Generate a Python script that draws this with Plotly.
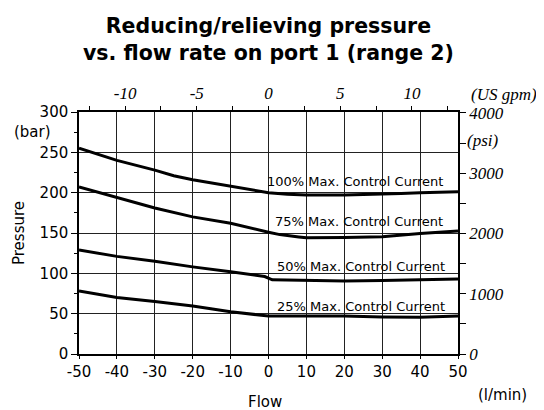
import plotly.graph_objects as go

# ---- data ----
flow_100 = [-50, -40, -30, -25, -20, -10, -3, 0, 5, 10, 20, 30, 35, 40, 50]
bar_100 = [255, 240, 228, 221, 216, 208, 203, 200, 198, 197, 197, 198, 199, 200, 201]

flow_75 = [-50, -40, -30, -20, -10, 0, 3, 8, 10, 20, 30, 40, 50]
bar_75 = [207, 194, 181, 170, 162, 151, 148, 145, 144, 144.5, 145.5, 149.5, 152.5]

flow_50 = [-50, -40, -30, -20, -10, -1, 1, 10, 20, 30, 40, 50]
bar_50 = [129, 121, 115, 108, 102, 96, 92, 91, 90.5, 91, 92, 93]

flow_25 = [-50, -40, -30, -20, -10, -2, 0, 10, 20, 30, 40, 50]
bar_25 = [78, 70, 65, 59.5, 52.5, 48, 47, 47, 47, 46, 45.5, 47]

curve_labels = ["100% Max. Control Current", "75% Max. Control Current",
                "50% Max. Control Current", "25% Max. Control Current"]
label_flow = [-1, 1.2, 1.6, 1.6]
label_bar = [214, 164, 109, 59.5]

x_ticks = [-50, -40, -30, -20, -10, 0, 10, 20, 30, 40, 50]
x_tick_text = ["-50", "-40", "-30", "-20", "-10", "0", "10", "20", "30", "40", "50"]
y_ticks = [0, 50, 100, 150, 200, 250, 300]
gpm_ticks = [-10, -5, 0, 5, 10]
gpm_tick_text = ["-10", "-5", "0", "5", "10"]
psi_ticks = [0, 1000, 2000, 3000, 4000]

LPM_PER_GPM = 3.785
PSI_TOP = 4015

title_text = "Reducing/relieving pressure<br>vs. flow rate on port 1 (range 2)"

# ---- figure ----
SANS = "DejaVu Sans"
SERIF = "Liberation Serif"
fig = go.Figure()
for fx, by in [(flow_100, bar_100), (flow_75, bar_75), (flow_50, bar_50), (flow_25, bar_25)]:
    fig.add_trace(go.Scatter(x=fx, y=by, mode="lines",
                             line=dict(color="black", width=3),
                             showlegend=False, hoverinfo="skip"))
# dummy trace to activate secondary axes
fig.add_trace(go.Scatter(x=[None], y=[None], xaxis="x2", yaxis="y2",
                         showlegend=False, hoverinfo="skip"))

for t, fx, by in zip(curve_labels, label_flow, label_bar):
    fig.add_annotation(x=fx, y=by, xref="x", yref="y", text=t, showarrow=False,
                       xanchor="left", yanchor="middle",
                       font=dict(family=SANS, size=13, color="black"))

# page body offset of the browser (default 8px margin)
OFF = 8
W, H = 544 - OFF, 410 - OFF
L, T = 79 - OFF, 112 - OFF
R = W - (458 - OFF)
B = H - (354 - OFF)
pw, ph = W - L - R, H - T - B


def px(xi):
    return (xi - OFF - L) / pw


def py(yi):
    return (H - B - (yi - OFF)) / ph


ann = [
    ("(bar)", 32, 132, SANS, 15, "normal", 0),
    ("Pressure", 19, 233, SANS, 15, "normal", -90),
    ("Flow", 265, 402, SANS, 15, "normal", 0),
    ("(l/min)", 502, 395, SANS, 15, "normal", 0),
    ("(US gpm)", 504, 94, SERIF, 17, "italic", 0),
    ("(psi)", 483, 140, SERIF, 17, "italic", 0),
]
for text, xi, yi, fam, sz, st, ang in ann:
    fig.add_annotation(x=px(xi), y=py(yi), xref="paper", yref="paper", text=text,
                       showarrow=False, xanchor="center", yanchor="middle",
                       textangle=ang,
                       font=dict(family=fam, size=sz, style=st, color="black"))

fig.add_annotation(x=px(268), y=py(39), xref="paper", yref="paper", text=title_text,
                   showarrow=False, xanchor="center", yanchor="middle",
                   font=dict(family=SANS, size=20.5, weight="bold", color="black"))

grid = "#222222"
fig.update_layout(
    width=W, height=H,
    margin=dict(l=L, r=R, t=T, b=B),
    paper_bgcolor="white", plot_bgcolor="white",
    xaxis=dict(range=[-50, 50], tickvals=x_ticks, ticktext=x_tick_text,
               showgrid=True, gridcolor=grid, gridwidth=1,
               showline=True, linecolor="black", linewidth=1.5, mirror=False,
               ticks="outside", ticklen=3, tickcolor="black",
               zeroline=False,
               tickfont=dict(family=SANS, size=15, color="black")),
    yaxis=dict(range=[0, 300], tickvals=y_ticks,
               showgrid=True, gridcolor=grid, gridwidth=1,
               showline=True, linecolor="black", linewidth=1.5, mirror=False,
               ticks="outside", ticklen=6, tickcolor="black",
               minor=dict(dtick=25, ticks="outside", ticklen=3, tickcolor="black", showgrid=False),
               zeroline=False,
               tickfont=dict(family=SANS, size=15, color="black")),
    xaxis2=dict(overlaying="x", side="top",
                range=[-50 / LPM_PER_GPM, 50 / LPM_PER_GPM],
                tickvals=gpm_ticks, ticktext=gpm_tick_text,
                showgrid=False, zeroline=False,
                showline=True, linecolor="black", linewidth=1.5,
                ticks="outside", ticklen=4, tickcolor="black",
                minor=dict(dtick=2.5, ticks="outside", ticklen=4, tickcolor="black", showgrid=False),
                tickfont=dict(family=SERIF, size=17, style="italic", color="black")),
    yaxis2=dict(overlaying="y", side="right", anchor="x",
                range=[0, PSI_TOP], tickvals=psi_ticks,
                showgrid=False, zeroline=False,
                showline=True, linecolor="black", linewidth=1.5,
                ticks="outside", ticklen=6, tickcolor="black",
                minor=dict(dtick=500, ticks="outside", ticklen=6, tickcolor="black", showgrid=False),
                tickfont=dict(family=SERIF, size=17, style="italic", color="black")),
)

fig.write_html("out.html")
